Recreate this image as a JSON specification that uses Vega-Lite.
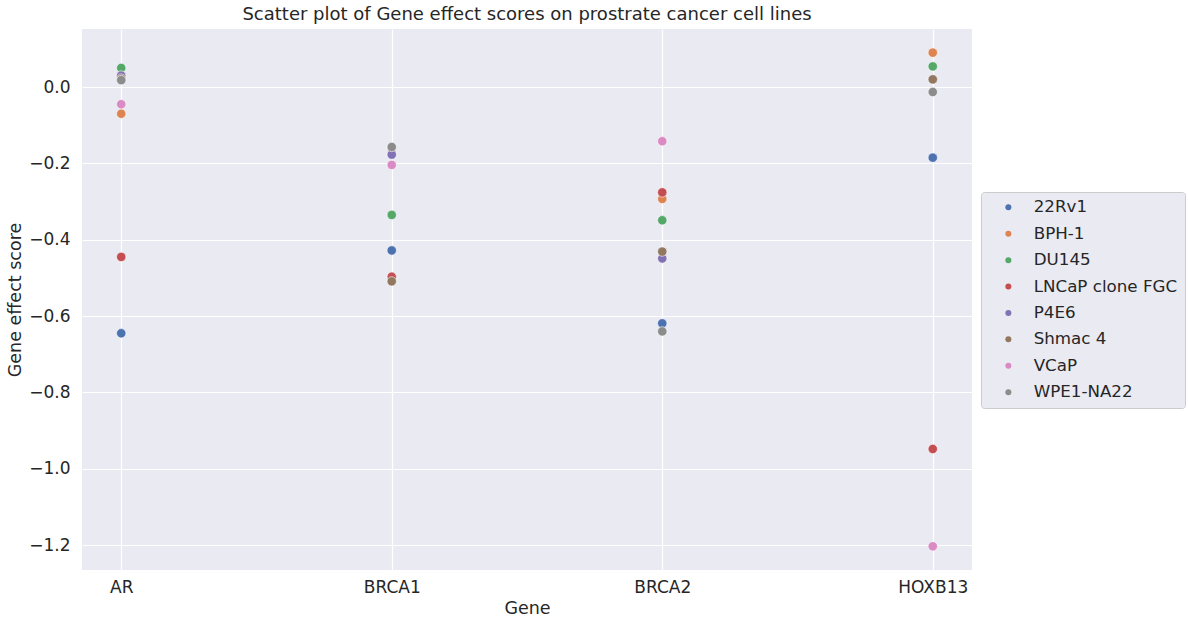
{
  "$schema": "https://vega.github.io/schema/vega-lite/v6.json",
  "autosize": "none",
  "width": 890,
  "height": 541,
  "padding": {"left": 82, "top": 29, "right": 216, "bottom": 58},
  "background": "white",
  "title": {
    "text": "Scatter plot of Gene effect scores on prostrate cancer cell lines",
    "font": "DejaVu Sans",
    "fontSize": 18,
    "fontWeight": "normal",
    "color": "#262626",
    "anchor": "middle",
    "offset": 5
  },
  "data": {
    "values": [
      {"gene": "AR", "cell": "22Rv1", "score": -0.645},
      {"gene": "AR", "cell": "BPH-1", "score": -0.07},
      {"gene": "AR", "cell": "DU145", "score": 0.05},
      {"gene": "AR", "cell": "LNCaP clone FGC", "score": -0.445},
      {"gene": "AR", "cell": "P4E6", "score": 0.03},
      {"gene": "AR", "cell": "Shmac 4", "score": 0.022},
      {"gene": "AR", "cell": "VCaP", "score": -0.045},
      {"gene": "AR", "cell": "WPE1-NA22", "score": 0.018},
      {"gene": "BRCA1", "cell": "22Rv1", "score": -0.428},
      {"gene": "BRCA1", "cell": "BPH-1", "score": -0.16},
      {"gene": "BRCA1", "cell": "DU145", "score": -0.335},
      {"gene": "BRCA1", "cell": "LNCaP clone FGC", "score": -0.497},
      {"gene": "BRCA1", "cell": "P4E6", "score": -0.177},
      {"gene": "BRCA1", "cell": "Shmac 4", "score": -0.509},
      {"gene": "BRCA1", "cell": "VCaP", "score": -0.204},
      {"gene": "BRCA1", "cell": "WPE1-NA22", "score": -0.157},
      {"gene": "BRCA2", "cell": "22Rv1", "score": -0.619},
      {"gene": "BRCA2", "cell": "BPH-1", "score": -0.293},
      {"gene": "BRCA2", "cell": "DU145", "score": -0.349},
      {"gene": "BRCA2", "cell": "LNCaP clone FGC", "score": -0.276},
      {"gene": "BRCA2", "cell": "P4E6", "score": -0.449},
      {"gene": "BRCA2", "cell": "Shmac 4", "score": -0.431},
      {"gene": "BRCA2", "cell": "VCaP", "score": -0.142},
      {"gene": "BRCA2", "cell": "WPE1-NA22", "score": -0.64},
      {"gene": "HOXB13", "cell": "22Rv1", "score": -0.185},
      {"gene": "HOXB13", "cell": "BPH-1", "score": 0.09},
      {"gene": "HOXB13", "cell": "DU145", "score": 0.054},
      {"gene": "HOXB13", "cell": "LNCaP clone FGC", "score": -0.948},
      {"gene": "HOXB13", "cell": "P4E6", "score": 0.02},
      {"gene": "HOXB13", "cell": "Shmac 4", "score": 0.02},
      {"gene": "HOXB13", "cell": "VCaP", "score": -1.203},
      {"gene": "HOXB13", "cell": "WPE1-NA22", "score": -0.013}
    ]
  },
  "mark": {"type": "circle", "size": 88, "opacity": 1, "stroke": "white", "strokeWidth": 0.6},
  "encoding": {
    "x": {
      "field": "gene",
      "type": "nominal",
      "sort": ["AR", "BRCA1", "BRCA2", "HOXB13"],
      "scale": {"type": "point", "padding": 0.145},
      "axis": {"title": "Gene", "labelAngle": 0, "labelPadding": 9, "titlePadding": 4}
    },
    "y": {
      "field": "score",
      "type": "quantitative",
      "scale": {"domain": [-1.265, 0.152], "nice": false, "zero": false},
      "axis": {"title": "Gene effect score", "values": [-1.2, -1.0, -0.8, -0.6, -0.4, -0.2, 0.0], "format": ".1f", "labelPadding": 12, "titlePadding": 4}
    },
    "color": {
      "field": "cell",
      "type": "nominal",
      "scale": {
        "domain": ["22Rv1", "BPH-1", "DU145", "LNCaP clone FGC", "P4E6", "Shmac 4", "VCaP", "WPE1-NA22"],
        "range": ["#4C72B0", "#DD8452", "#55A868", "#C44E52", "#8172B3", "#937860", "#DA8BC3", "#8C8C8C"]
      },
      "legend": {
        "title": null,
        "orient": "none",
        "legendX": 899,
        "legendY": 163,
        "fillColor": "#EAEAF2",
        "strokeColor": "#CCCCCC",
        "cornerRadius": 3,
        "padding": 7,
        "symbolType": "circle",
        "symbolSize": 36,
        "symbolOffset": 12,
        "symbolOpacity": 1,
        "symbolStrokeWidth": 0,
        "labelFontSize": 16.7,
        "labelOffset": 17,
        "rowPadding": 8.4,
        "labelLimit": 300
      }
    },
    "order": {"field": "cell", "type": "nominal"}
  },
  "config": {
    "font": "DejaVu Sans",
    "view": {"fill": "#EAEAF2", "stroke": null},
    "axis": {
      "domain": false,
      "ticks": false,
      "grid": true,
      "gridColor": "white",
      "gridWidth": 1.2,
      "labelFont": "DejaVu Sans",
      "labelFontSize": 17,
      "labelColor": "#262626",
      "titleFont": "DejaVu Sans",
      "titleFontSize": 17.5,
      "titleFontWeight": "normal",
      "titleColor": "#262626"
    },
    "legend": {"labelFont": "DejaVu Sans", "labelColor": "#262626"}
  }
}
